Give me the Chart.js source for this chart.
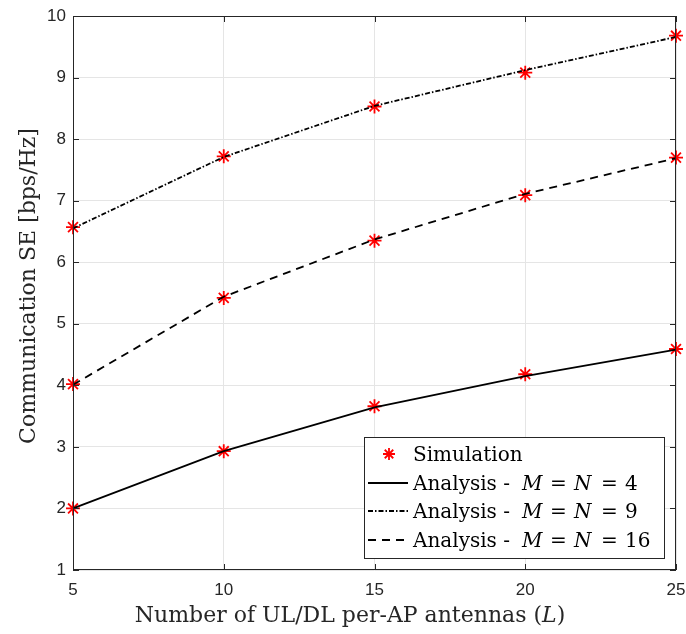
<!DOCTYPE html>
<html>
<head>
<meta charset="utf-8">
<script src="https://cdn.jsdelivr.net/npm/chart.js@4"></script>
<style>
  html, body { margin: 0; padding: 0; background: #fff; }
  #wrap { width: 686px; height: 634px; }
</style>
</head>
<body>
<div id="wrap"><canvas id="seChart" width="686" height="634"></canvas></div>
<script>
var antennas = [5, 10, 15, 20, 25];
var yTicks = [1, 2, 3, 4, 5, 6, 7, 8, 9, 10];

// analytical curves
var anaM4 = [2.00, 2.93, 3.64, 4.15, 4.58];
var anaM9 = [6.55, 7.71, 8.54, 9.12, 9.66];
var anaM16 = [4.01, 5.44, 6.37, 7.11, 7.69];

// Monte-Carlo points
var simM4 = [2.00, 2.93, 3.66, 4.18, 4.59];
var simM9 = [6.57, 7.72, 8.53, 9.08, 9.68];
var simM16 = [4.02, 5.42, 6.35, 7.09, 7.70];

var legendSizes = ['4', '9', '16'];

function toXY(ys) {
    return antennas.map(function (x, i) { return { x: x, y: ys[i] }; });
}

var simPoints = toXY(simM4).concat(toXY(simM9), toXY(simM16));

var tickFont = { family: "'Liberation Sans', Arial, sans-serif", size: 17 };
var serif = "'DejaVu Serif', 'Liberation Serif', serif";

// axis titles, legend and the box frame drawn by hand (mixed italic text)
var decorations = {
    id: 'decorations',
    afterDraw: function (chart) {
        var ctx = chart.ctx;
        var a = chart.chartArea;
        var xs = chart.scales.x, ys = chart.scales.y;
        ctx.save();

        // frame
        ctx.strokeStyle = '#262626';
        ctx.lineWidth = 1;
        ctx.strokeRect(a.left + 0.5, a.top + 0.5, a.right - a.left - 1, a.bottom - a.top - 1);

        // inward ticks
        ctx.beginPath();
        yTicks.forEach(function (v) {
            var py = Math.round(ys.getPixelForValue(v)) + 0.5;
            ctx.moveTo(a.left, py); ctx.lineTo(a.left + 6, py);
            ctx.moveTo(a.right, py); ctx.lineTo(a.right - 6, py);
        });
        antennas.forEach(function (v) {
            var px = Math.round(xs.getPixelForValue(v)) + 0.5;
            ctx.moveTo(px, a.bottom); ctx.lineTo(px, a.bottom - 6);
            ctx.moveTo(px, a.top); ctx.lineTo(px, a.top + 6);
        });
        ctx.stroke();

        // x title
        ctx.fillStyle = '#262626';
        ctx.textBaseline = 'alphabetic';
        drawRich(ctx, [
            { t: 'Number of UL/DL per-AP antennas (', f: '22px ' + serif },
            { t: 'L', f: 'italic 22px ' + serif },
            { t: ')', f: '22px ' + serif }
        ], 350, 622, 'center');

        // y title
        ctx.save();
        ctx.translate(35, 286);
        ctx.rotate(-Math.PI / 2);
        drawRich(ctx, [{ t: 'Communication SE [bps/Hz]', f: '22px ' + serif }], 0, 0, 'center');
        ctx.restore();

        // legend
        var lx = 364, ly = 437, lw = 300, lh = 121;
        ctx.fillStyle = '#fff';
        ctx.fillRect(lx, ly, lw, lh);
        ctx.strokeStyle = '#262626';
        ctx.lineWidth = 1;
        ctx.strokeRect(lx + 0.5, ly + 0.5, lw, lh);

        var rows = [ly + 17, ly + 46, ly + 74, ly + 103];
        var tx = lx + 49;
        drawStar(ctx, lx + 25, rows[0], 6);

        var dashes = [[], [5, 2, 1.5, 2], [8, 6]];
        var f = '20px ' + serif, fi = 'italic 20px ' + serif;
        for (var i = 0; i < 3; i++) {
            var by = rows[i + 1] + 7;
            ctx.strokeStyle = '#000';
            ctx.lineWidth = 1.8;
            ctx.setLineDash(dashes[i]);
            ctx.beginPath();
            ctx.moveTo(lx + 4, rows[i + 1]);
            ctx.lineTo(lx + 44, rows[i + 1]);
            ctx.stroke();
            ctx.setLineDash([]);
            ctx.fillStyle = '#000';
            ctx.textAlign = 'left';
            ctx.font = f;  ctx.fillText('Analysis -', tx, by);
            ctx.font = fi; ctx.fillText('M', tx + 109, by);
            ctx.font = f;  ctx.fillText('=', tx + 137, by);
            ctx.font = fi; ctx.fillText('N', tx + 161, by);
            ctx.font = f;  ctx.fillText('=', tx + 188, by);
            ctx.font = f;  ctx.fillText(legendSizes[i], tx + 212, by);
        }
        ctx.fillStyle = '#000';
        ctx.font = f;
        ctx.fillText('Simulation', tx, rows[0] + 7);

        ctx.restore();
    }
};

function drawRich(ctx, parts, x, y, align) {
    var total = 0;
    parts.forEach(function (p) { ctx.font = p.f; total += ctx.measureText(p.t).width; });
    var cx = align === 'center' ? x - total / 2 : x;
    ctx.textAlign = 'left';
    parts.forEach(function (p) {
        ctx.font = p.f;
        ctx.fillText(p.t, cx, y);
        cx += ctx.measureText(p.t).width;
    });
}

function drawStar(ctx, x, y, r) {
    ctx.save();
    ctx.strokeStyle = '#ff0000';
    ctx.lineWidth = 1.8;
    ctx.beginPath();
    for (var k = 0; k < 4; k++) {
        var ang = k * Math.PI / 4;
        ctx.moveTo(x - r * Math.sin(ang), y - r * Math.cos(ang));
        ctx.lineTo(x + r * Math.sin(ang), y + r * Math.cos(ang));
    }
    ctx.stroke();
    ctx.restore();
}

var lineStyle = {
    borderColor: '#000',
    borderWidth: 1.8,
    pointRadius: 0,
    fill: false,
    tension: 0,
    clip: false
};

var chart = new Chart(document.getElementById('seChart'), {
    type: 'scatter',
    data: {
        datasets: [
            Object.assign({ label: 'Analysis - M = N = 4', data: toXY(anaM4), showLine: true, borderDash: [] }, lineStyle),
            Object.assign({ label: 'Analysis - M = N = 9', data: toXY(anaM9), showLine: true, borderDash: [5, 2, 1.5, 2] }, lineStyle),
            Object.assign({ label: 'Analysis - M = N = 16', data: toXY(anaM16), showLine: true, borderDash: [8, 6] }, lineStyle),
            {
                label: 'Simulation',
                data: simPoints,
                showLine: false,
                clip: false,
                pointStyle: 'star',
                pointRadius: 7,
                pointBorderColor: '#ff0000',
                pointBackgroundColor: '#ff0000',
                pointBorderWidth: 1.8,
                borderColor: '#ff0000'
            }
        ]
    },
    options: {
        responsive: false,
        animation: false,
        layout: { padding: { top: 16, right: 10, left: 0, bottom: 0 } },
        plugins: {
            legend: { display: false },
            tooltip: { enabled: false }
        },
        scales: {
            x: {
                type: 'linear',
                min: 5,
                max: 25,
                afterBuildTicks: function (s) { s.ticks = antennas.map(function (v) { return { value: v }; }); },
                afterFit: function (s) { s.height = 64; s.paddingLeft = 0; s.paddingRight = 0; },
                ticks: { font: tickFont, color: '#262626', padding: 10, maxRotation: 0 },
                grid: { color: '#e5e5e5', drawTicks: false, lineWidth: 1 },
                border: { display: false }
            },
            y: {
                type: 'linear',
                min: 1,
                max: 10,
                afterBuildTicks: function (s) { s.ticks = yTicks.map(function (v) { return { value: v }; }); },
                afterFit: function (s) { s.width = 73; s.paddingTop = 0; s.paddingBottom = 0; },
                ticks: { font: tickFont, color: '#262626', padding: 7 },
                grid: { color: '#e5e5e5', drawTicks: false, lineWidth: 1 },
                border: { display: false }
            }
        }
    },
    plugins: [decorations]
});
</script>
</body>
</html>
